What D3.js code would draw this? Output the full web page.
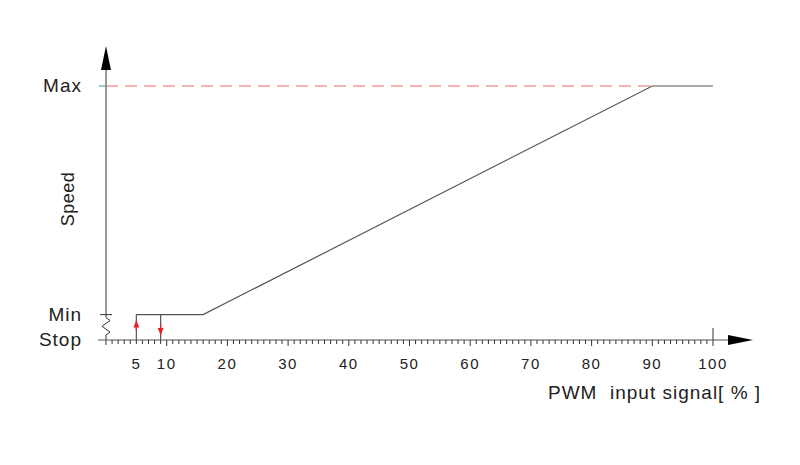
<!DOCTYPE html>
<html>
<head>
<meta charset="utf-8">
<script src="https://cdn.jsdelivr.net/npm/d3@7"></script>
<style>
  body { margin: 0; background: #fff; }
  text { font-family: "Liberation Sans", "DejaVu Sans", sans-serif; fill: #222; }
</style>
</head>
<body>
<script>
// data
const tickLabels = [5, 10, 20, 30, 40, 50, 60, 70, 80, 90, 100];
const speedLevels = ["Stop", "Min", "Max"];
const speedValues = [0, 10, 100];
const curvePwm = [5, 16, 90, 100];
const curveSpeed = [10, 10, 100, 100];
const hystOn = 5;   // switch on (up arrow)
const hystOff = 9;  // switch off (down arrow)

const width = 800;
const height = 465;

const svg = d3.select("body").append("svg")
  .attr("width", width)
  .attr("height", height);

const x = d3.scaleLinear().domain([0, 100]).range([106, 713]);
const y = d3.scaleLinear().domain([0, 100]).range([340, 86]);

const stroke = "#555";

// arrow head marker, drawn along the line direction
const defs = svg.append("defs");
defs.append("marker").attr("id", "redHead")
  .attr("viewBox", "0 0 7 6").attr("refX", 7).attr("refY", 3)
  .attr("markerWidth", 7).attr("markerHeight", 6).attr("markerUnits", "userSpaceOnUse")
  .attr("orient", "auto")
  .append("path").attr("d", "M0,0 L7,3 L0,6 Z").attr("fill", "#e8202a");

// x axis line + arrow
svg.append("line")
  .attr("x1", 98).attr("x2", 735)
  .attr("y1", y(0)).attr("y2", y(0))
  .attr("stroke", stroke).attr("stroke-width", 1.2);
svg.append("path")
  .attr("d", `M728,${y(0) - 5} L753,${y(0)} L728,${y(0) + 5} Z`)
  .attr("fill", "#000");

// y axis line + arrow
svg.append("line")
  .attr("x1", x(0)).attr("x2", x(0))
  .attr("y1", y(0) + 5).attr("y2", 66)
  .attr("stroke", stroke).attr("stroke-width", 1.2);
svg.append("path")
  .attr("d", `M${x(0) - 5},70 L${x(0)},46 L${x(0) + 5},70 Z`)
  .attr("fill", "#000");

// x ticks every 1 %
const ticks = d3.range(1, 101);
svg.append("g").selectAll("line")
  .data(ticks)
  .join("line")
  .attr("x1", d => x(d)).attr("x2", d => x(d))
  .attr("y1", d => d === 100 ? y(0) - 12 : y(0))
  .attr("y2", d => y(0) + (d % 10 === 0 ? 6 : 4))
  .attr("stroke", "#333").attr("stroke-width", 1);

svg.append("g").selectAll("text")
  .data(tickLabels)
  .join("text")
  .attr("x", d => x(d))
  .attr("y", 369)
  .attr("text-anchor", "middle")
  .attr("font-size", 15)
  .attr("letter-spacing", 1.5)
  .text(d => d);

// y labels
svg.append("g").selectAll("text")
  .data(speedLevels)
  .join("text")
  .attr("x", 82)
  .attr("y", (d, i) => y(speedValues[i]) + 6)
  .attr("text-anchor", "end")
  .attr("font-size", 19)
  .attr("letter-spacing", 1)
  .text(d => d);

// Min tick on y axis
svg.append("line")
  .attr("x1", x(0) - 6).attr("x2", x(0) + 6)
  .attr("y1", y(10)).attr("y2", y(10))
  .attr("stroke", "#333");
// Max tick on y axis
svg.append("line")
  .attr("x1", x(0) - 7).attr("x2", x(0))
  .attr("y1", y(100)).attr("y2", y(100))
  .attr("stroke", "#3a9a8a");

// zigzag break between Stop and Min (white gap over axis)
const z0 = y(10) + 3, z1 = y(0) - 5;
svg.append("line")
  .attr("x1", x(0)).attr("x2", x(0))
  .attr("y1", z0).attr("y2", z1)
  .attr("stroke", "#fff").attr("stroke-width", 3);
const zz = d3.range(0, 7).map(i => [x(0) + (i % 2 === 0 ? 0 : (i % 4 === 1 ? 4 : -4)), z0 + (z1 - z0) * i / 6]);
svg.append("path")
  .attr("d", d3.line()(zz))
  .attr("fill", "none").attr("stroke", "#333");

// red dashed max line
svg.append("line")
  .attr("x1", x(0)).attr("x2", x(90))
  .attr("y1", y(100)).attr("y2", y(100))
  .attr("stroke", "#f06a6a").attr("stroke-width", 1.2)
  .attr("stroke-dasharray", "12,7");

// speed curve
const pts = curvePwm.map((p, i) => [x(p), y(curveSpeed[i])]);
svg.append("path")
  .attr("d", d3.line()(pts))
  .attr("fill", "none").attr("stroke", stroke).attr("stroke-width", 1.2);

// hysteresis verticals
[hystOn, hystOff].forEach(p => {
  svg.append("line")
    .attr("x1", x(p)).attr("x2", x(p))
    .attr("y1", y(0)).attr("y2", y(10))
    .attr("stroke", stroke).attr("stroke-width", 1.2);
});

// red arrows: up at switch-on, down at switch-off
svg.append("line")
  .attr("x1", x(hystOn)).attr("x2", x(hystOn))
  .attr("y1", y(0) - 10).attr("y2", y(10) + 6)
  .attr("stroke", "#e8202a").attr("stroke-width", 1.4)
  .attr("marker-end", "url(#redHead)");
svg.append("line")
  .attr("x1", x(hystOff)).attr("x2", x(hystOff))
  .attr("y1", y(10) + 10).attr("y2", y(0) - 5)
  .attr("stroke", "#e8202a").attr("stroke-width", 1.4)
  .attr("marker-end", "url(#redHead)");

// axis titles
svg.append("text")
  .attr("transform", "translate(74,199) rotate(-90)")
  .attr("text-anchor", "middle")
  .attr("font-size", 18)
  .attr("letter-spacing", 0.5)
  .text("Speed");

svg.append("text")
  .attr("x", 548)
  .attr("y", 399)
  .attr("font-size", 19)
  .attr("letter-spacing", 1)
  .style("white-space", "pre")
  .text("PWM  input signal[ % ]");
</script>
</body>
</html>
